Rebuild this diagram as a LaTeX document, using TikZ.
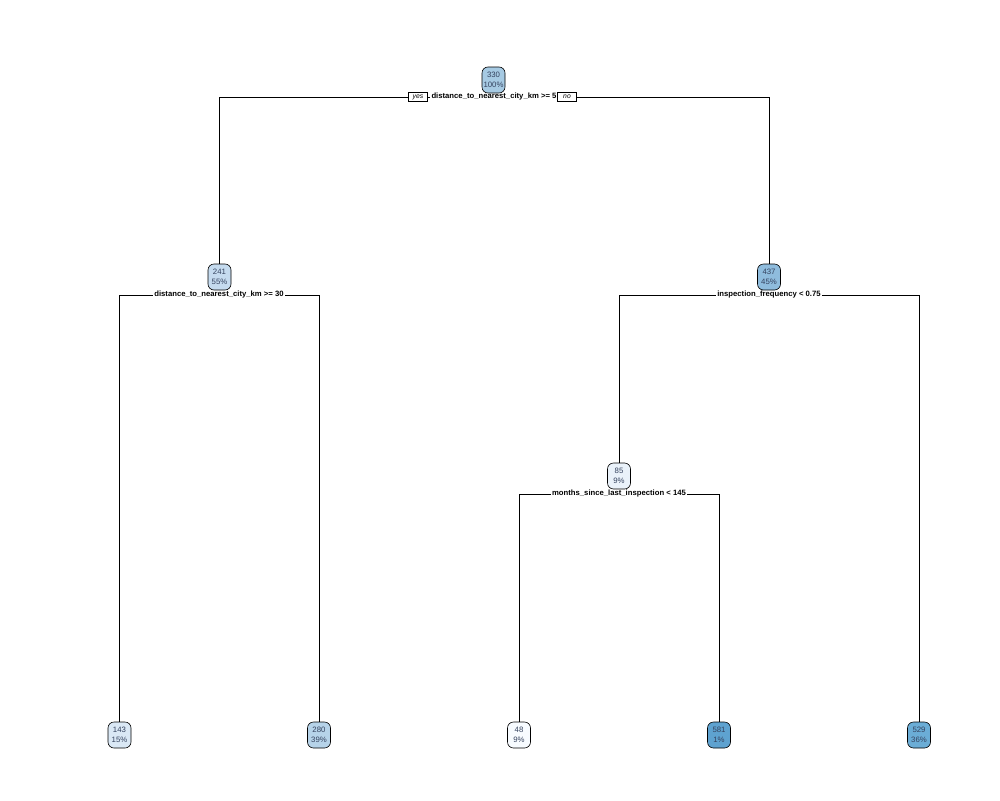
\documentclass[tikz,border=0pt]{standalone}
\usepackage{fontspec}
\setmainfont{Liberation Sans}
\begin{document}
\begin{tikzpicture}[x={(1pt,0)},y={(0,-1pt)},
  treenode/.style={draw=black, line width=0.6pt, rounded corners=6pt, minimum width=23pt,
    minimum height=26pt, inner sep=0.5pt, align=center, font=\fontsize{7.8}{9.5}\selectfont,
    text=valtext},
  splitlab/.style={fill=white, inner sep=1.2pt, font=\bfseries\fontsize{7.7}{8}\selectfont, text=black},
  tag/.style={draw=black, fill=white, line width=0.5pt, inner sep=1pt, minimum width=19pt,
    minimum height=9pt, font=\itshape\fontsize{6.8}{7}\selectfont},
  edge/.style={draw=black, line width=0.6pt}]
\definecolor{valtext}{HTML}{34425E}
\definecolor{c330}{HTML}{A6CAE3}
\definecolor{c241}{HTML}{C5DBEF}
\definecolor{c437}{HTML}{8FBCDD}
\definecolor{c85}{HTML}{EAF2FA}
\definecolor{c143}{HTML}{DAE8F5}
\definecolor{c280}{HTML}{B6D3E9}
\definecolor{c48}{HTML}{F7FBFF}
\definecolor{c581}{HTML}{5EA2D0}
\definecolor{c529}{HTML}{6BADD6}
\useasboundingbox (0,0) rectangle (1000,800);

% split labels
\node[splitlab] (s0) at (494,97) {distance\_to\_nearest\_city\_km >= 5};
\node[splitlab] (s1) at (219,295) {distance\_to\_nearest\_city\_km >= 30};
\node[splitlab] (s2) at (769,295) {inspection\_frequency < 0.75};
\node[splitlab] (s3) at (619,494) {months\_since\_last\_inspection < 145};

% tree nodes
\node[treenode, fill=c330] (n330) at (493.5,80) {330\\100\%};
\node[treenode, fill=c241] (n241) at (219.5,277) {241\\55\%};
\node[treenode, fill=c437] (n437) at (769,277) {437\\45\%};
\node[treenode, fill=c85] (n85) at (619,476) {85\\9\%};
\node[treenode, fill=c143] (n143) at (119.5,735) {143\\15\%};
\node[treenode, fill=c280] (n280) at (319,735) {280\\39\%};
\node[treenode, fill=c48] (n48) at (519,735) {48\\9\%};
\node[treenode, fill=c581] (n581) at (719,735) {581\\1\%};
\node[treenode, fill=c529] (n529) at (919,735) {529\\36\%};

% branches: horizontal from each split label, then down to the child
\draw[edge] (s0.west) -| (n241.north);
\draw[edge] (s0.east) -| (n437.north);
\draw[edge] (s1.west) -| (n143.north);
\draw[edge] (s1.east) -| (n280.north);
\draw[edge] (s2.west) -| (n85.north);
\draw[edge] (s2.east) -| (n529.north);
\draw[edge] (s3.west) -| (n48.north);
\draw[edge] (s3.east) -| (n581.north);

% yes / no tags on the first split
\node[tag] (yes) at (418,97) {yes};
\node[tag] (no) at (567,97) {no};
\end{tikzpicture}
\end{document}
